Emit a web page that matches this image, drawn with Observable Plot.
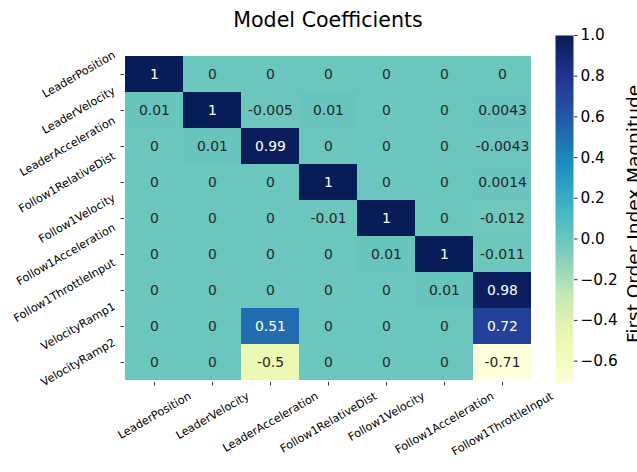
<!DOCTYPE html>
<html>
<head>
<meta charset="utf-8">
<script src="https://cdn.jsdelivr.net/npm/d3@7"></script>
<script src="https://cdn.jsdelivr.net/npm/@observablehq/plot@0.6"></script>
<style>
  html, body { margin: 0; padding: 0; background: #fff; }
  #wrap { position: relative; width: 637px; height: 472px; overflow: hidden; font-family: "DejaVu Sans", sans-serif; }
  #wrap > svg { position: absolute; top: 0; }
</style>
</head>
<body>
<div id="wrap"></div>
<script>
const title = "Model Coefficients";
const colorbarLabel = "First Order Index Magnitude";
const columns = ["LeaderPosition", "LeaderVelocity", "LeaderAcceleration", "Follow1RelativeDist", "Follow1Velocity", "Follow1Acceleration", "Follow1ThrottleInput"];
const rows = ["LeaderPosition", "LeaderVelocity", "LeaderAcceleration", "Follow1RelativeDist", "Follow1Velocity", "Follow1Acceleration", "Follow1ThrottleInput", "VelocityRamp1", "VelocityRamp2"];
const values = [
  [1, 0, 0, 0, 0, 0, 0],
  [0.01, 1, -0.005, 0.01, 0, 0, 0.0043],
  [0, 0.01, 0.99, 0, 0, 0, -0.0043],
  [0, 0, 0, 1, 0, 0, 0.0014],
  [0, 0, 0, -0.01, 1, 0, -0.012],
  [0, 0, 0, 0, 0.01, 1, -0.011],
  [0, 0, 0, 0, 0, 0.01, 0.98],
  [0, 0, 0.51, 0, 0, 0, 0.72],
  [0, 0, -0.5, 0, 0, 0, -0.71]
];
const colorDomain = [-0.71, 1.0];
const colorbarTicks = [-0.6, -0.4, -0.2, 0.0, 0.2, 0.4, 0.6, 0.8, 1.0];
const ylgnbu = ["#ffffd9", "#edf8b1", "#c7e9b4", "#7fcdbb", "#41b6c4", "#1d91c0", "#225ea8", "#253494", "#081d58"];

const interp = d3.piecewise(d3.interpolateRgb, ylgnbu);
const colorScale = {type: "linear", domain: colorDomain, interpolate: () => interp};

const table = [];
rows.forEach((r, i) => columns.forEach((c, j) => table.push({row: r, col: c, value: values[i][j]})));

function relLum(col) {
  const c = d3.rgb(col);
  const f = v => { v /= 255; return v <= 0.03928 ? v / 12.92 : Math.pow((v + 0.055) / 1.055, 2.4); };
  return 0.2126 * f(c.r) + 0.7152 * f(c.g) + 0.0722 * f(c.b);
}
const tcolor = v => {
  const t = (v - colorDomain[0]) / (colorDomain[1] - colorDomain[0]);
  return relLum(interp(Math.max(0, Math.min(1, t)))) > 0.408 ? "#262626" : "#ffffff";
};

const FONT = "DejaVu Sans";
const tickFs = 11.2;
const ctx = document.createElement("canvas").getContext("2d");
ctx.font = `${tickFs}px "${FONT}"`;
const W = s => ctx.measureText(s).width;
const H = 1.164 * tickFs;
const s30 = Math.sin(Math.PI / 6), c30 = Math.cos(Math.PI / 6);
const pad = 7;

const xLabelMarks = columns.map(c => {
  const bh = W(c) * s30 + H * c30;
  return Plot.text([c], {x: d => d, frameAnchor: "bottom", dy: pad + bh / 2, rotate: -30, textAnchor: "middle", lineAnchor: "middle", fontSize: tickFs, fill: "#000"});
});
const yLabelMarks = rows.map(r => {
  const bw = W(r) * c30 + H * s30;
  return Plot.text([r], {y: d => d, frameAnchor: "left", dx: -(pad + bw / 2), rotate: -30, textAnchor: "middle", lineAnchor: "middle", fontSize: tickFs, fill: "#000"});
});

const main = Plot.plot({
  width: 637, height: 472,
  marginLeft: 124, marginRight: 106, marginTop: 53, marginBottom: 90,
  style: {fontFamily: FONT, background: "transparent", overflow: "visible"},
  x: {type: "band", domain: columns, padding: 0, axis: null},
  y: {type: "band", domain: rows, padding: 0, axis: null},
  color: colorScale,
  marks: [
    Plot.cell(table, {x: "col", y: "row", fill: "value", inset: 0}),
    Plot.text(table, {x: "col", y: "row", text: d => String(d.value), fill: d => tcolor(d.value), fontSize: 13.9}),
    Plot.axisX({anchor: "bottom", tickSize: 3.5, tickFormat: () => "", stroke: "#333", strokeWidth: 1, label: null}),
    Plot.axisY({anchor: "left", tickSize: 3.5, tickFormat: () => "", stroke: "#333", strokeWidth: 1, label: null}),
    ...xLabelMarks,
    ...yLabelMarks,
    Plot.text([title], {frameAnchor: "top", dy: -32.8, lineAnchor: "middle", fontSize: 20.6, fill: "#000"})
  ]
});
main.style.left = "0px";

const cb = Plot.plot({
  width: 82, height: 472,
  marginLeft: 0, marginRight: 64, marginTop: 35, marginBottom: 89,
  style: {fontFamily: FONT, background: "transparent", overflow: "visible"},
  x: {domain: [0, 1], axis: null},
  y: {domain: colorDomain, axis: null},
  color: colorScale,
  marks: [
    Plot.raster({fill: (x, y) => y, x1: 0, x2: 1, y1: colorDomain[0], y2: colorDomain[1], width: 1, height: 400, imageRendering: "auto"}),
    Plot.axisY(colorbarTicks, {anchor: "right", tickSize: 3.5, tickPadding: 3.5, tickFormat: d3.format(".1f"), fontSize: 15.3, stroke: "#333", fill: "#000", label: null}),
    Plot.text([colorbarLabel], {frameAnchor: "right", dx: 60.2, dy: 4.5, rotate: -90, textAnchor: "middle", lineAnchor: "middle", fontSize: 18.5, fill: "#000"})
  ]
});
cb.style.left = "555px";

const wrap = document.getElementById("wrap");
wrap.appendChild(main);
wrap.appendChild(cb);
</script>
</body>
</html>
